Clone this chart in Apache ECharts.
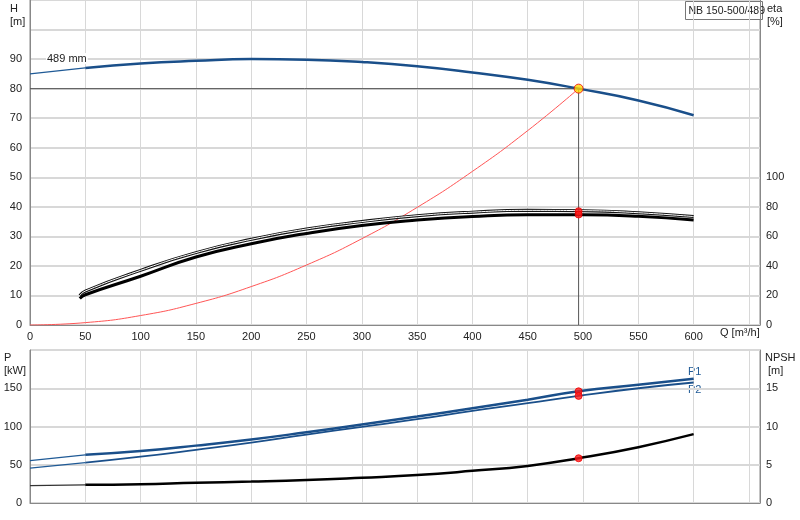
<!DOCTYPE html>
<html><head><meta charset="utf-8">
<script src="https://cdn.jsdelivr.net/npm/echarts@6/dist/echarts.min.js"></script>
<style>html,body{margin:0;padding:0;background:#fff}#c{width:800px;height:520px}</style>
</head><body><div id="c"></div>
<script>
// Data (Q in m³/h)
const qH = [0, 50, 100, 150, 200, 250, 300, 350, 400, 450, 496, 550, 600];
const headH = [85, 87, 88.5, 89.4, 90, 89.8, 89, 87.6, 85.5, 83, 80, 76, 71];
const qEta = [45, 50, 100, 150, 200, 250, 300, 350, 400, 450, 500, 550, 600];
const etaUpper = [20, 23, 37, 49, 58, 65, 70, 74, 76.4, 77.6, 77.4, 76, 73.4];
const etaLower = [18, 20.5, 33, 46, 55, 62, 67.4, 71, 73.4, 74.6, 74.6, 73.6, 71];
const qSys = [0, 50, 100, 150, 200, 250, 300, 350, 400, 450, 496];
const sysH = [0, 0.8, 3.2, 7.3, 13, 20.3, 29.2, 39.8, 52, 65.8, 80];
const qP = [0, 50, 100, 150, 200, 250, 300, 350, 400, 450, 496, 550, 600];
const p1 = [55.5, 63, 68, 75, 83, 92.5, 102.6, 113, 124, 135, 146, 154.5, 162.5];
const p2 = [45.5, 52.7, 60.5, 69.5, 79, 89.5, 99.5, 109.5, 120.5, 130.5, 140, 150, 157.5];
const npsh = [2.28, 2.37, 2.45, 2.65, 2.8, 3.0, 3.3, 3.65, 4.2, 4.85, 5.85, 7.3, 9.0];
const dutyQ = 496, dutyH = 80;
const dutyEta = [77, 74.8];
const dutyP = [146, 140];
const dutyNpsh = 5.85;

const zip = (xs, ys) => xs.map((x, i) => [x, ys[i]]);
const splitThin = (xs, ys, cut) => {
  const thin = [], thick = [];
  xs.forEach((x, i) => { if (x <= cut) thin.push([x, ys[i]]); if (x >= cut) thick.push([x, ys[i]]); });
  return [thin, thick];
};
const [hThin, hThick] = splitThin(qH, headH, 50);
const [p1Thin, p1Thick] = splitThin(qP, p1, 50);
const [p2Thin, p2Thick] = splitThin(qP, p2, 50);
const [nThin, nThick] = splitThin(qP, npsh, 50);

const lbl = {color: '#222', fontSize: 11, fontFamily: 'Arial, Liberation Sans, sans-serif'};
const gridLine = {show: true, lineStyle: {color: '#d8d8d8', width: 1}};
const xAxisBase = (gi, showLabels) => ({
  type: 'value', gridIndex: gi, min: 0, max: 660, interval: 50,
  axisLine: {show: true, lineStyle: {color: '#888'}}, axisTick: {show: false},
  axisLabel: {show: showLabels, ...lbl, margin: 6, formatter: v => v <= 600 ? String(v) : ''},
  splitLine: gridLine
});
const line = (name, data, color, width, xi, yi, extra) => Object.assign({
  type: 'line', name, data, xAxisIndex: xi, yAxisIndex: yi, symbol: 'none', smooth: true,
  lineStyle: {color, width}, silent: true, z: 3
}, extra || {});
const dot = (data, color, xi, yi, size) => ({
  type: 'scatter', data, xAxisIndex: xi, yAxisIndex: yi, symbolSize: size || 7,
  itemStyle: {color, borderColor: '#e00', borderWidth: 1}, z: 10, silent: true
});
const font = '11px Arial, Liberation Sans';

const chart = echarts.init(document.getElementById('c'));
chart.setOption({
  animation: false,
  backgroundColor: '#fff',
  grid: [
    {left: 30, right: 40, top: 0, bottom: 195, show: true, borderColor: '#888'},
    {left: 30, right: 40, top: 350, bottom: 17, show: true, borderColor: '#888'}
  ],
  xAxis: [xAxisBase(0, true), xAxisBase(1, false)],
  yAxis: [
    {type: 'value', gridIndex: 0, min: 0, max: 110, interval: 10, axisLine: {show: true, lineStyle: {color: '#888'}},
     axisTick: {show: false}, axisLabel: {...lbl, margin: 8, formatter: v => v <= 90 ? String(v) : ''},
     splitLine: {show: true, lineStyle: {color: '#d8d8d8', width: 2}}},
    {type: 'value', gridIndex: 0, position: 'right', min: 0, max: 220, interval: 20,
     axisLine: {show: true, lineStyle: {color: '#888'}}, axisTick: {show: false},
     axisLabel: {...lbl, margin: 6, formatter: v => v <= 100 ? String(v) : ''}, splitLine: {show: false}},
    {type: 'value', gridIndex: 1, min: 0, max: 200, interval: 50, axisLine: {show: true, lineStyle: {color: '#888'}},
     axisTick: {show: false}, axisLabel: {...lbl, margin: 8, formatter: v => v <= 150 ? String(v) : ''},
     splitLine: {show: true, lineStyle: {color: '#d8d8d8', width: 2}}},
    {type: 'value', gridIndex: 1, position: 'right', min: 0, max: 20, interval: 5,
     axisLine: {show: true, lineStyle: {color: '#888'}}, axisTick: {show: false},
     axisLabel: {...lbl, margin: 6, formatter: v => v <= 15 ? String(v) : ''}, splitLine: {show: false}}
  ],
  series: [
    {type: 'line', data: [[0, dutyH], [dutyQ, dutyH]], xAxisIndex: 0, yAxisIndex: 0, symbol: 'none',
     lineStyle: {color: '#555', width: 1}, z: 2, silent: true},
    {type: 'line', data: [[dutyQ, dutyH], [dutyQ, 0]], xAxisIndex: 0, yAxisIndex: 0, symbol: 'none',
     lineStyle: {color: '#555', width: 1}, z: 2, silent: true},
    line('sys', zip(qSys, sysH), '#ff5555', 1, 0, 0),
    line('H thin', hThin, '#1f5a96', 1.2, 0, 0),
    line('H', hThick, '#1a4f8a', 2.5, 0, 0),
    line('eta1', zip(qEta, etaUpper), '#111', 3, 0, 1),
    line('eta1in', zip(qEta, etaUpper), '#ffffff', 1, 0, 1, {z: 4}),
    line('eta2', zip(qEta, etaLower), '#000', 3, 0, 1),
    dot([[dutyQ, dutyEta[0]], [dutyQ, dutyEta[1]]], '#ff1a1a', 0, 1, 7),
    dot([[dutyQ, dutyH]], '#ffd700', 0, 0, 9),
    line('P1 thin', p1Thin, '#1f5a96', 1.2, 1, 2),
    line('P1', p1Thick, '#1a4f8a', 2.5, 1, 2),
    line('P2 thin', p2Thin, '#1f5a96', 1.2, 1, 2),
    line('P2', p2Thick, '#1a4f8a', 1.8, 1, 2),
    line('NPSH thin', nThin, '#333', 1.2, 1, 3),
    line('NPSH', nThick, '#000', 2.5, 1, 3),
    dot([[dutyQ, dutyP[0]], [dutyQ, dutyP[1]]], '#ff1a1a', 1, 2, 7),
    dot([[dutyQ, dutyNpsh]], '#ff1a1a', 1, 3, 7)
  ],
  graphic: [
    {type: 'text', left: 10, top: 2, style: {text: 'H\n[m]', fill: '#222', font, align: 'center', lineHeight: 13}},
    {type: 'text', left: 767, top: 2, style: {text: 'eta\n[%]', fill: '#222', font, lineHeight: 13}},
    {type: 'text', left: 720, top: 327, style: {text: 'Q [m³/h]', fill: '#222', font}},
    {type: 'text', left: 46, top: 53, z: 20, style: {text: '489 mm', fill: '#222', font, backgroundColor: '#fff', padding: [0, 1]}},
    {type: 'group', left: 685, top: 1, z: 20, children: [
      {type: 'rect', shape: {x: 0, y: 0, width: 77, height: 18}, style: {fill: '#fff', stroke: '#777', lineWidth: 1}},
      {type: 'text', x: 3, y: 4, style: {text: 'NB 150-500/489', fill: '#222', font: '10.5px Arial, Liberation Sans'}}
    ]},
    {type: 'text', left: 4, top: 351, style: {text: 'P\n[kW]', fill: '#222', font, lineHeight: 13}},
    {type: 'text', left: 765, top: 351, style: {text: 'NPSH\n [m]', fill: '#222', font, lineHeight: 13}},
    {type: 'text', left: 688, top: 366, style: {text: 'P1', fill: '#1f5a96', font}},
    {type: 'text', left: 688, top: 384, style: {text: 'P2', fill: '#1f5a96', font}}
  ]
});
</script></body></html>
